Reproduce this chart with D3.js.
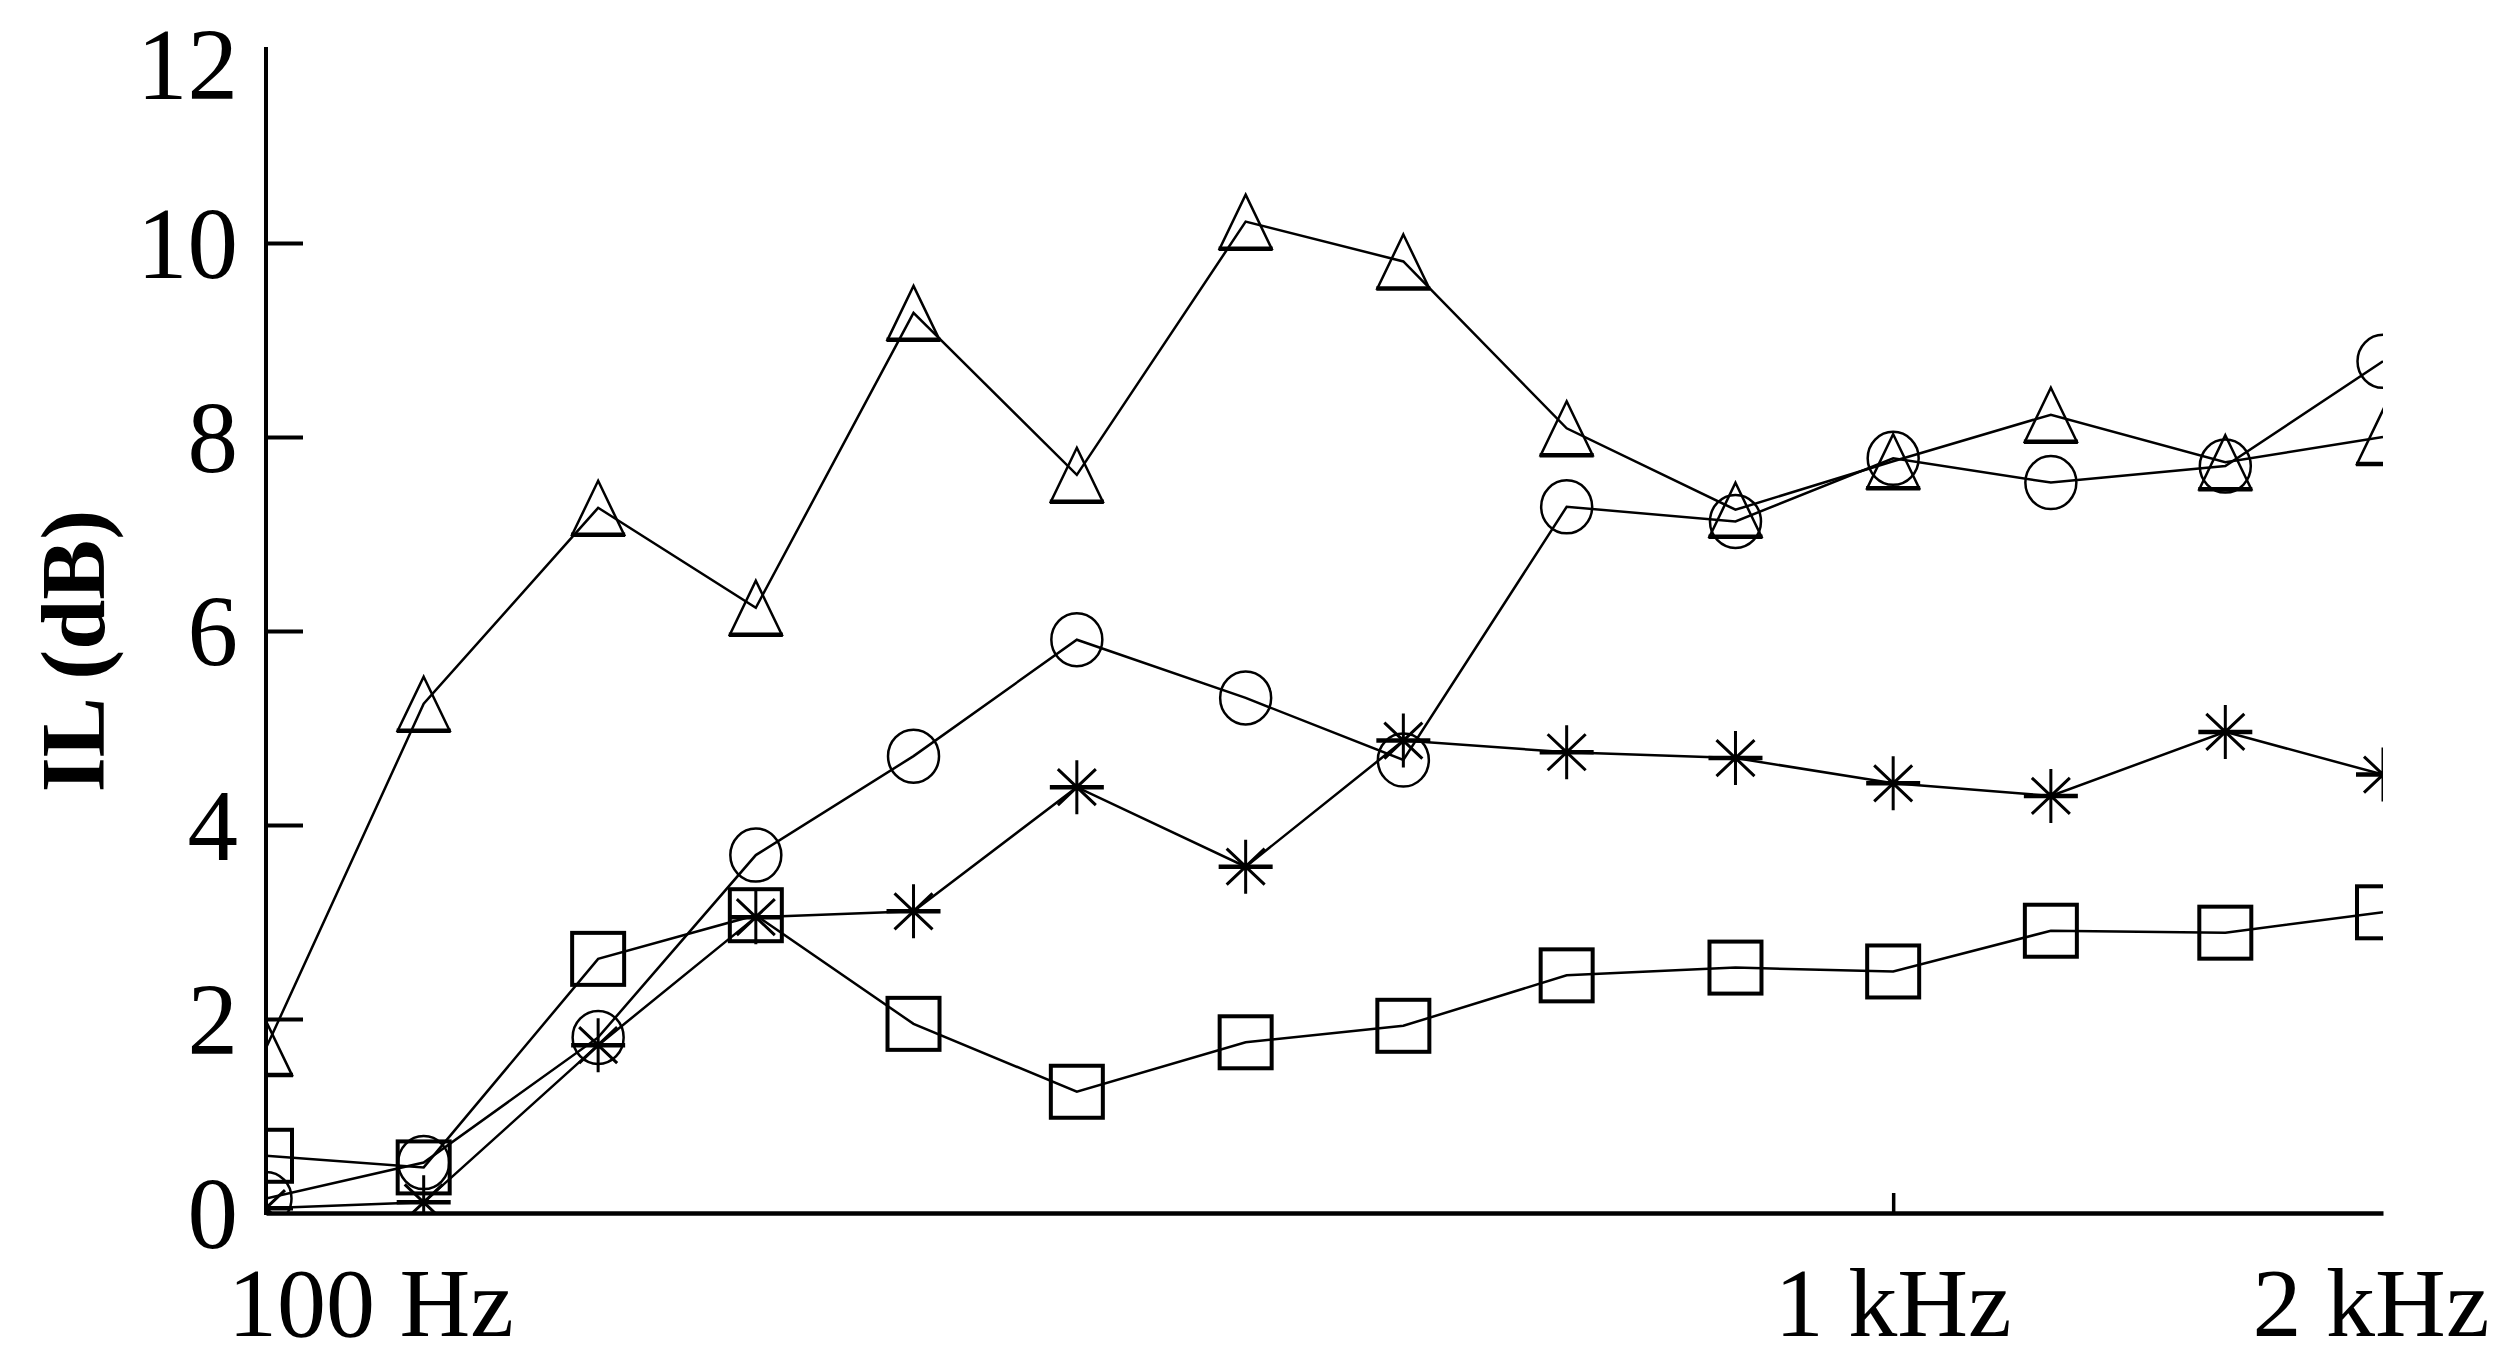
<!DOCTYPE html>
<html><head><meta charset="utf-8">
<script src="https://cdn.jsdelivr.net/npm/d3@7"></script>
<style>html,body{margin:0;padding:0;background:#fff;} svg{display:block}</style>
</head><body>
<svg id="chart" width="2513" height="1368"></svg>
<script>
// ---- data ----
const frequencies = [100,125,160,200,250,315,400,500,630,800,1000,1250,1600,2000];
const triangleSeries = [1.70,5.25,7.27,6.24,9.28,7.61,10.22,9.81,8.09,7.25,7.75,8.23,7.74,8.00];
const circleSeries   = [0.15,0.52,1.81,3.69,4.71,5.91,5.31,4.67,7.28,7.13,7.78,7.53,7.70,8.78];
const asteriskSeries = [0.05,0.11,1.73,3.05,3.11,4.39,3.57,4.87,4.75,4.69,4.43,4.30,4.96,4.52];
const squareSeries   = [0.59,0.47,2.62,3.07,1.95,1.25,1.76,1.93,2.45,2.53,2.49,2.91,2.89,3.10];
const yTickValues = [0,2,4,6,8,10,12];
const xTickValues = [100,1000,2000];
const xTickLabels = ["100 Hz","1 kHz","2 kHz"];
const yTitle = "IL (dB)";

// ---- layout ----
const svg = d3.select("#chart");
const x = d3.scaleLog().domain([100,2000]).range([266,2383]);
const y = d3.scaleLinear().domain([0,12]).range([1213,49]);
const FONT = "'Liberation Serif','Times New Roman',serif";

svg.append("defs").append("clipPath").attr("id","plotclip")
  .append("rect").attr("x",x.range()[0]).attr("y",y.range()[1]-2)
  .attr("width",x.range()[1]-x.range()[0]).attr("height",y.range()[0]-y.range()[1]+2);

// axes
const yAxis = d3.axisLeft(y).tickValues(yTickValues.filter(v=>v>0&&v<12))
  .tickSizeInner(-37).tickSizeOuter(0).tickFormat("");
const gy = svg.append("g").attr("transform",`translate(${x.range()[0]},0)`).call(yAxis);
gy.select(".domain").attr("stroke","#000").attr("stroke-width",4).attr("d",`M0,${y(0)+2}V${y.range()[1]-2}`);
gy.selectAll(".tick line").attr("stroke","#000").attr("stroke-width",4);

const xAxis = d3.axisBottom(x).tickValues([1000]).tickSizeInner(-20).tickSizeOuter(0).tickFormat("");
const gx = svg.append("g").attr("transform",`translate(0,${y(0)})`).call(xAxis);
gx.select(".domain").attr("stroke","#000").attr("stroke-width",4.5);
gx.selectAll(".tick line").attr("stroke","#000").attr("stroke-width",3.5);

// tick labels
svg.append("g").selectAll("text").data(yTickValues).join("text")
  .attr("x", x.range()[0]-28)
  .attr("y", d => Math.max(y(d), 64) + 35)
  .attr("text-anchor","end")
  .attr("font-family",FONT).attr("font-size",101).attr("fill","#000")
  .text(d => d);

const xLabelAnchor = ["start","middle","middle"];
const xLabelShift = [-38,0,-12];
svg.append("g").selectAll("text").data(xTickValues).join("text")
  .attr("x",(d,i)=>x(d)+xLabelShift[i])
  .attr("y",1336)
  .attr("text-anchor",(d,i)=>xLabelAnchor[i])
  .attr("font-family",FONT).attr("font-size",98).attr("fill","#000")
  .text((d,i)=>xTickLabels[i]);

svg.append("text")
  .attr("transform","translate(104,651) rotate(-90)")
  .attr("text-anchor","middle")
  .attr("font-family",FONT).attr("font-weight","bold").attr("font-size",90).attr("fill","#000")
  .text(yTitle);

// series
const series = [
  {values: squareSeries, marker:"square"},
  {values: asteriskSeries, marker:"asterisk"},
  {values: circleSeries, marker:"circle"},
  {values: triangleSeries, marker:"triangle"}
];
const line = d3.line().x(d=>x(d.f)).y(d=>y(d.v));
const plot = svg.append("g").attr("clip-path","url(#plotclip)");

series.forEach(s => {
  const pts = frequencies.map((f,i)=>({f, v:s.values[i]}));
  plot.append("path").datum(pts).attr("d",line)
    .attr("fill","none").attr("stroke","#000").attr("stroke-width",2.5).attr("stroke-linejoin","miter");
  const g = plot.append("g").selectAll("g").data(pts).join("g")
    .attr("transform",d=>`translate(${x(d.f)},${y(d.v)})`);
  if (s.marker==="square") {
    g.append("rect").attr("x",-26).attr("y",-26).attr("width",52).attr("height",52)
      .attr("fill","none").attr("stroke","#000").attr("stroke-width",4);
  } else if (s.marker==="circle") {
    g.append("ellipse").attr("rx",25.5).attr("ry",26.5)
      .attr("fill","none").attr("stroke","#000").attr("stroke-width",2.5);
  } else if (s.marker==="triangle") {
    g.append("path").attr("d","M0,-27L26,27L-26,27Z")
      .attr("fill","none").attr("stroke","#000").attr("stroke-width",2.5);
    g.append("line").attr("x1",-27).attr("x2",27).attr("y1",27).attr("y2",27)
      .attr("stroke","#000").attr("stroke-width",4.5);
  } else if (s.marker==="asterisk") {
    g.append("path").attr("d","M0,-27V27M-19,-18L19,18M19,-18L-19,18")
      .attr("fill","none").attr("stroke","#000").attr("stroke-width",3);
    g.append("line").attr("x1",-27).attr("x2",27).attr("y1",0).attr("y2",0)
      .attr("stroke","#000").attr("stroke-width",4.5);
  }
});
</script>
</body></html>
